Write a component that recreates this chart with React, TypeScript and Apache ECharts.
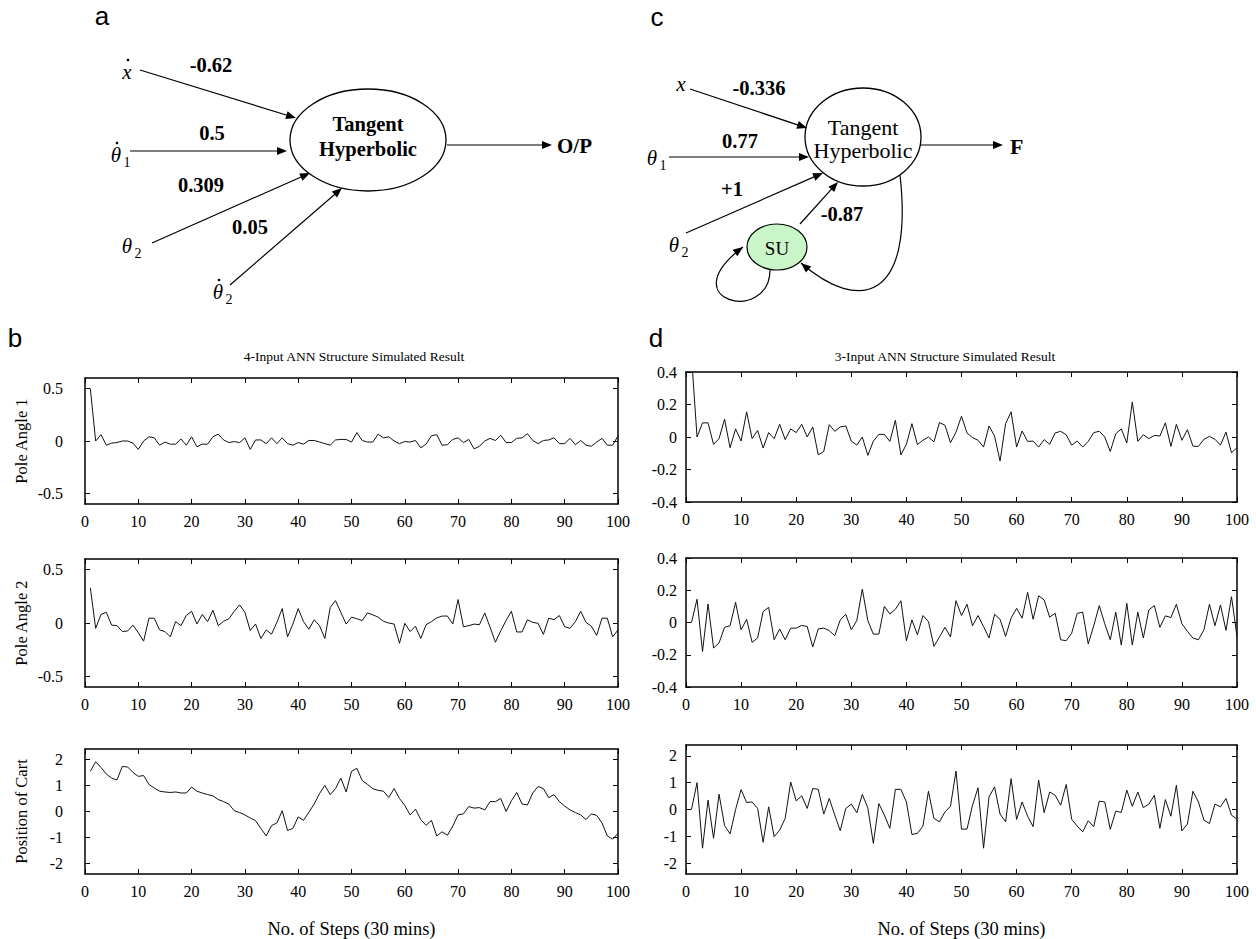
import React, { useEffect, useRef } from "react";
import * as echarts from "echarts";

// ---------- data ----------
const poleAngle1_4in = [
  0.5, 0.0, 0.06, -0.04, -0.02, -0.015, 0.0, 0.0, -0.02, -0.08,
  0.0, 0.04, 0.03, -0.04, -0.01, -0.03, -0.03, 0.02, -0.04, 0.04,
  -0.055, -0.03, -0.03, 0.04, 0.065, 0.01, -0.015, -0.005, -0.015, 0.03,
  -0.08, 0.01, 0.01, -0.025, 0.03, -0.025, 0.03, -0.025, -0.04, -0.015,
  -0.03, 0.005, 0.005, -0.01, -0.025, -0.04, 0.01, 0.015, 0.015, -0.01,
  0.08, 0.005, -0.01, -0.01, 0.065, 0.03, 0.04, 0.0, -0.025, -0.005,
  -0.01, 0.005, -0.065, -0.03, 0.05, 0.06, -0.04, -0.035, 0.015, 0.03,
  -0.015, 0.015, -0.075, -0.05, 0.0, 0.025, 0.005, 0.055, -0.015, -0.015,
  0.025, 0.03, 0.07, 0.005, -0.025, 0.005, 0.01, 0.03, -0.025, -0.025,
  0.025, -0.035, 0.005, -0.04, -0.05, -0.01, 0.025, -0.04, -0.04, 0.05,
];
const poleAngle2_4in = [
  0.33, -0.05, 0.08, 0.1, -0.02, -0.025, -0.08, -0.075, -0.02, -0.09,
  -0.17, 0.045, 0.045, -0.065, -0.08, -0.13, 0.013, -0.025, 0.07, 0.11,
  -0.01, 0.08, 0.013, 0.12, -0.025, 0.016, 0.04, 0.11, 0.17, 0.1,
  -0.07, -0.01, -0.145, -0.065, -0.105, 0.006, 0.135, -0.13, -0.01, 0.135,
  0.013, -0.058, 0.03, -0.025, -0.145, 0.145, 0.21, 0.1, -0.01, 0.055,
  0.04, 0.023, 0.094, 0.077, 0.055, 0.016, 0.0, -0.01, -0.19, -0.003,
  -0.08, -0.03, -0.145, -0.016, 0.013, 0.048, 0.065, 0.065, -0.01, 0.22,
  -0.035, -0.025, -0.01, -0.016, 0.094, -0.04, -0.18, -0.074, 0.023, 0.11,
  -0.084, -0.084, 0.03, 0.006, -0.003, -0.106, 0.045, 0.032, 0.07, -0.035,
  -0.05, 0.013, 0.11, 0.006, -0.03, -0.116, 0.045, 0.045, -0.13, -0.065,
];
const cartPos_4in = [
  1.54, 1.91, 1.69, 1.44, 1.28, 1.21, 1.73, 1.71, 1.5, 1.35,
  1.38, 1.04, 0.9, 0.78, 0.75, 0.73, 0.75, 0.71, 0.71, 0.94,
  0.78, 0.71, 0.65, 0.6, 0.46, 0.38, 0.28, 0.03, -0.04, -0.13,
  -0.25, -0.35, -0.65, -0.94, -0.54, -0.44, 0.03, -0.73, -0.65, -0.21,
  -0.34, -0.03, 0.29, 0.69, 1.0, 0.65, 0.88, 1.28, 0.75, 1.54,
  1.66, 1.19, 1.04, 0.88, 0.81, 0.78, 0.54, 0.88, 0.5, 0.23,
  -0.13, 0.09, -0.31, -0.53, -0.34, -0.94, -0.78, -0.91, -0.56, -0.13,
  -0.09, 0.19, 0.13, 0.15, 0.06, 0.38, 0.38, 0.5, 0.0, 0.41,
  0.73, 0.29, 0.25, 0.71, 0.96, 0.88, 0.53, 0.65, 0.38, 0.21,
  0.06, -0.04, -0.13, -0.31, -0.09, -0.15, -0.44, -0.94, -1.06, -0.84,
];
const poleAngle1_3in = [
  0.5, 0.0, 0.087, 0.087, -0.045, -0.01, 0.11, -0.066, 0.05, -0.025,
  0.155, -0.01, 0.04, -0.068, 0.027, -0.01, 0.078, -0.016, 0.05, 0.027,
  0.078, 0.0, 0.062, -0.11, -0.089, 0.076, 0.035, 0.062, 0.068, -0.025,
  -0.05, 0.0, -0.113, -0.025, 0.016, 0.016, -0.027, 0.103, -0.11, -0.045,
  0.082, -0.047, -0.02, 0.0, -0.03, 0.089, 0.072, -0.035, 0.03, 0.128,
  0.025, -0.004, -0.02, -0.062, 0.068, 0.006, -0.148, 0.082, 0.155, -0.062,
  0.037, -0.027, -0.025, -0.062, -0.016, -0.045, 0.025, 0.035, 0.014, -0.05,
  -0.025, -0.062, -0.027, 0.027, 0.035, 0.0, -0.089, 0.02, 0.05, -0.037,
  0.216, -0.027, 0.014, -0.01, 0.01, 0.006, 0.087, -0.058, 0.078, -0.02,
  0.045, -0.056, -0.058, -0.014, 0.004, -0.014, -0.05, 0.03, -0.097, -0.066,
];
const poleAngle2_3in = [
  0.0, 0.144, -0.18, 0.115, -0.158, -0.127, -0.03, -0.02, 0.125, -0.045,
  0.02, -0.123, -0.096, 0.068, 0.094, -0.107, -0.04, -0.107, -0.035, -0.035,
  -0.018, -0.025, -0.152, -0.04, -0.035, -0.05, -0.082, 0.016, 0.051, -0.045,
  0.012, 0.207, 0.012, -0.072, -0.072, 0.1, 0.053, 0.082, 0.135, -0.113,
  0.016, -0.076, 0.043, 0.006, -0.148, -0.09, -0.03, -0.09, 0.135, 0.043,
  0.113, -0.02, 0.043, -0.025, -0.096, 0.051, 0.02, -0.086, 0.027, 0.088,
  0.027, 0.187, 0.02, 0.166, 0.14, 0.033, 0.057, -0.107, -0.113, -0.066,
  0.057, 0.064, -0.133, -0.02, 0.105, -0.008, -0.107, 0.064, -0.14, 0.119,
  -0.14, 0.064, -0.096, 0.078, 0.105, -0.03, 0.041, 0.031, 0.113, -0.008,
  -0.055, -0.096, -0.107, -0.045, 0.113, -0.02, 0.109, -0.049, 0.16, -0.086,
];
const cartPos_3in = [
  0.0, 1.0, -1.44, 0.35, -1.07, 0.57, -0.6, -0.91, 0.0, 0.74,
  0.26, 0.28, 0.04, -1.22, 0.1, -1.01, -0.77, -0.33, 1.02, 0.32,
  0.51, 0.04, 0.78, 0.75, -0.17, 0.41, -0.21, -0.79, 0.04, 0.2,
  -0.12, 0.56, 0.06, -1.26, 0.22, -0.21, -0.7, 0.75, 0.75, 0.28,
  -0.93, -0.89, -0.62, 0.68, -0.33, -0.46, -0.09, 0.12, 1.43, -0.73,
  -0.73, 0.16, 0.81, -1.44, 0.47, 0.84, -0.17, -0.46, 1.15, -0.37,
  0.28, -0.25, -0.64, 1.09, -0.12, 0.65, 0.53, 0.16, 0.93, -0.36,
  -0.62, -0.83, -0.42, -0.64, 0.31, 0.28, -0.74, -0.06, -0.11, 0.72,
  0.12, 0.65, 0.07, 0.2, 0.53, -0.7, 0.37, -0.25, 0.9, -0.8,
  -0.54, 0.68, 0.28, -0.4, -0.52, 0.2, 0.1, 0.41, -0.21, -0.36,
];

const yTicksAngle4 = [-0.5, 0, 0.5];
const yTicksAngle3 = [-0.4, -0.2, 0, 0.2, 0.4];
const yTicksCart = [-2, -1, 0, 1, 2];
const xMin = 0;
const xMax = 100;
const xInterval = 10;

const titleLeft = "4-Input ANN Structure Simulated Result";
const titleRight = "3-Input ANN Structure Simulated Result";
const xAxisTitle = "No. of Steps (30 mins)";

const SERIF = "'Liberation Serif', 'Times New Roman', serif";
const SANS = "'Liberation Sans', Arial, sans-serif";

type Panel = {
  left: number; top: number; width: number; height: number;
  min: number; max: number; ticks: number[]; labelMargin: number;
  yName?: string; xName?: string; data: number[];
};

const panels: Panel[] = [
  { left: 85, top: 378, width: 533, height: 126, min: -0.6, max: 0.6, ticks: yTicksAngle4, labelMargin: 22, yName: "Pole Angle 1", data: poleAngle1_4in },
  { left: 85, top: 559, width: 533, height: 128, min: -0.6, max: 0.6, ticks: yTicksAngle4, labelMargin: 22, yName: "Pole Angle 2", data: poleAngle2_4in },
  { left: 85, top: 749, width: 533, height: 128, min: -2.4, max: 2.4, ticks: yTicksCart, labelMargin: 22, yName: "Position of Cart", xName: xAxisTitle, data: cartPos_4in },
  { left: 686, top: 372, width: 551, height: 130, min: -0.4, max: 0.4, ticks: yTicksAngle3, labelMargin: 9, data: poleAngle1_3in },
  { left: 686, top: 558, width: 551, height: 129, min: -0.4, max: 0.4, ticks: yTicksAngle3, labelMargin: 9, data: poleAngle2_3in },
  { left: 686, top: 745, width: 551, height: 130, min: -2.4, max: 2.4, ticks: yTicksCart, labelMargin: 9, xName: xAxisTitle, data: cartPos_3in },
];

const fmt = (v: number) => {
  const r = Math.round(v * 10) / 10;
  return r === 0 ? "0" : String(r);
};

const BLACK = "#000";
const axisLine = { show: true, onZero: false, lineStyle: { color: BLACK, width: 1.5 } };
const tickStyle = { inside: true, length: 5, lineStyle: { color: BLACK, width: 1 } };
const labelFont = { color: BLACK, fontSize: 16, fontFamily: SERIF };

// ---------- diagram helpers ----------
function arrowHead(x: number, y: number, dx: number, dy: number, len = 10, hw = 4) {
  const l = Math.hypot(dx, dy);
  const ux = dx / l, uy = dy / l;
  const bx = x - ux * len, by = y - uy * len;
  return {
    type: "polygon",
    shape: { points: [[x, y], [bx - uy * hw, by + ux * hw], [bx + uy * hw, by - ux * hw]] },
    style: { fill: BLACK },
    silent: true,
  };
}
function arrow(x1: number, y1: number, x2: number, y2: number) {
  const dx = x2 - x1, dy = y2 - y1;
  const l = Math.hypot(dx, dy);
  const ex = x2 - (dx / l) * 6, ey = y2 - (dy / l) * 6;
  return [
    { type: "line", shape: { x1, y1, x2: ex, y2: ey }, style: { stroke: BLACK, lineWidth: 1.2 }, silent: true },
    arrowHead(x2, y2, dx, dy),
  ];
}
function curveArrow(x1: number, y1: number, c1x: number, c1y: number, c2x: number, c2y: number, x2: number, y2: number) {
  return [
    { type: "bezierCurve", shape: { x1, y1, cpx1: c1x, cpy1: c1y, cpx2: c2x, cpy2: c2y, x2, y2 }, style: { stroke: BLACK, lineWidth: 1.2, fill: "none" }, silent: true },
    arrowHead(x2, y2, x2 - c2x, y2 - c2y),
  ];
}
function txt(text: string, x: number, y: number, size: number, opts: any = {}) {
  return {
    type: "text", x, y, silent: true,
    style: {
      text, fontSize: size, fontFamily: opts.family || SERIF, fontWeight: opts.bold ? "bold" : "normal",
      fontStyle: opts.italic ? "italic" : "normal", fill: BLACK,
      align: opts.align || "center", verticalAlign: "middle",
    },
  };
}
function dot(x: number, y: number) {
  return { type: "circle", shape: { cx: x, cy: y, r: 1.3 }, style: { fill: BLACK }, silent: true };
}
function sym(letter: string, x: number, y: number, sub?: string, withDot = false) {
  const out: any[] = [txt(letter, x, y, 21, { italic: true })];
  if (sub) out.push(txt(sub, x + 11, y + 7, 14));
  if (withDot) out.push(dot(x + 1, y - 12));
  return out;
}

export default function App() {
  const ref = useRef<HTMLDivElement>(null);
  useEffect(() => {
    const chart = echarts.init(ref.current!, null, { renderer: "svg" });

    const grid: any[] = [];
    const xAxis: any[] = [];
    const yAxis: any[] = [];
    const series: any[] = [];
    panels.forEach((p, k) => {
      grid.push({ left: p.left, top: p.top, width: p.width, height: p.height, containLabel: false });
      xAxis.push({
        type: "value", gridIndex: k, position: "bottom", min: xMin, max: xMax, interval: xInterval,
        axisLine, axisTick: tickStyle, splitLine: { show: false },
        axisLabel: { ...labelFont, margin: 9 },
        name: p.xName, nameLocation: "middle", nameGap: 45,
        nameTextStyle: { color: BLACK, fontSize: 18.5, fontFamily: SERIF },
      });
      xAxis.push({
        type: "value", gridIndex: k, position: "top", min: xMin, max: xMax, interval: xInterval,
        axisLine, axisTick: tickStyle, splitLine: { show: false }, axisLabel: { show: false },
      });
      yAxis.push({
        type: "value", gridIndex: k, position: "left", min: p.min, max: p.max,
        axisLine, splitLine: { show: false },
        axisTick: { ...tickStyle, customValues: p.ticks },
        axisLabel: { ...labelFont, margin: p.labelMargin, customValues: p.ticks, formatter: fmt },
        name: p.yName, nameLocation: "middle", nameRotate: 90, nameGap: 55,
        nameTextStyle: { color: BLACK, fontSize: 16.5, fontFamily: SERIF },
      });
      yAxis.push({
        type: "value", gridIndex: k, position: "right", min: p.min, max: p.max,
        axisLine, splitLine: { show: false },
        axisTick: { ...tickStyle, customValues: p.ticks },
        axisLabel: { show: false },
      });
      series.push({
        type: "line", xAxisIndex: 2 * k, yAxisIndex: 2 * k,
        data: p.data.map((v, i) => [i + 1, v]),
        showSymbol: false, symbol: "none", clip: true,
        lineStyle: { color: "#111", width: 1 },
      });
    });

    const B = 20.5;
    const graphic: any[] = [
      // panel letters
      txt("a", 102, 16, 26, { family: SANS }),
      txt("c", 657, 17, 26, { family: SANS }),
      txt("b", 15, 338, 26, { family: SANS }),
      txt("d", 656, 338, 26, { family: SANS }),
      // plot titles
      txt(titleLeft, 354, 356, 13.5),
      txt(titleRight, 945, 356, 13.5),

      // ---- diagram a ----
      { type: "ellipse", shape: { cx: 368, cy: 140, rx: 78, ry: 51 }, style: { stroke: BLACK, lineWidth: 1.3, fill: "none" }, silent: true },
      txt("Tangent", 368, 124, B, { bold: true }),
      txt("Hyperbolic", 368, 149, B, { bold: true }),
      ...arrow(140, 70, 296, 118),
      ...arrow(130, 151, 287, 151),
      ...arrow(152, 243, 310, 173),
      ...arrow(230, 285, 342, 188),
      ...arrow(447, 145, 552, 145),
      txt("-0.62", 211, 65, B, { bold: true }),
      txt("0.5", 212, 133, B, { bold: true }),
      txt("0.309", 201, 185, B, { bold: true }),
      txt("0.05", 250, 227, B, { bold: true }),
      txt("O/P", 557, 146, 21, { bold: true, align: "left" }),
      ...sym("x", 127, 72, undefined, true),
      ...sym("θ", 116, 155, "1", true),
      ...sym("θ", 127, 246, "2"),
      ...sym("θ", 218, 292, "2", true),

      // ---- diagram c ----
      { type: "ellipse", shape: { cx: 863, cy: 137, rx: 58, ry: 49 }, style: { stroke: BLACK, lineWidth: 1.3, fill: "none" }, silent: true },
      txt("Tangent", 863, 127, 22),
      txt("Hyperbolic", 863, 150, 22),
      ...arrow(690, 89, 807, 128),
      ...arrow(669, 157, 809, 157),
      ...arrow(686, 233, 823, 173),
      ...arrow(800, 224, 838, 182),
      ...arrow(920, 145, 1003, 145),
      { type: "ellipse", shape: { cx: 777, cy: 247, rx: 30, ry: 23 }, style: { stroke: BLACK, lineWidth: 1.2, fill: "#c9f5c9" }, silent: true },
      txt("SU", 777, 248, 19),
      ...curveArrow(770, 270, 770, 324, 670, 302, 743, 247),
      ...curveArrow(900, 175, 914, 300, 860, 314, 801, 263),
      txt("-0.336", 759, 88, B, { bold: true }),
      txt("0.77", 740, 141, B, { bold: true }),
      txt("+1", 732, 189, B, { bold: true }),
      txt("-0.87", 842, 214, B, { bold: true }),
      txt("F", 1010, 146, 22, { bold: true, align: "left" }),
      ...sym("x", 681, 84),
      ...sym("θ", 652, 158, "1"),
      ...sym("θ", 674, 245, "2"),
    ];

    chart.setOption({ animation: false, backgroundColor: "#fff", grid, xAxis, yAxis, series, graphic });
    return () => chart.dispose();
  }, []);
  return <div ref={ref} style={{ position: "absolute", left: 0, top: 0, width: 1256, height: 939, background: "#fff" }} />;
}
